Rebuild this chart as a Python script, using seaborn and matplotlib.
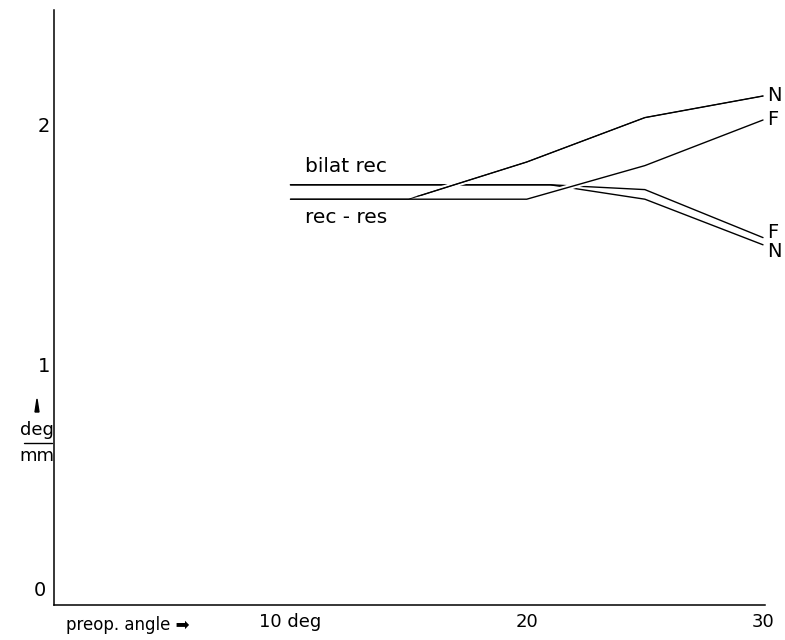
import matplotlib
matplotlib.use("Agg")
import matplotlib.pyplot as plt
import matplotlib.patheffects as pe
from matplotlib.lines import Line2D
from matplotlib.patches import Polygon
import seaborn as sns
import pandas as pd

# values (deg/mm vs preop angle)
x_recres = [10, 15, 20, 25, 30]
recres_N = [1.69, 1.69, 1.845, 2.03, 2.12]
recres_F = [1.69, 1.69, 1.69, 1.83, 2.02]

x_bilat = [10, 21, 25, 30]
bilat_F = [1.75, 1.75, 1.73, 1.53]
bilat_N = [1.75, 1.75, 1.69, 1.50]

end_labels = ["N", "F", "F", "N"]
xticks = [10, 20, 30]
xticklabels = ["10 deg", "20", "30"]
yticks = [1, 2]

df_rr_N = pd.DataFrame({"angle": x_recres, "val": recres_N})
df_rr_F = pd.DataFrame({"angle": x_recres, "val": recres_F})
df_bi_F = pd.DataFrame({"angle": x_bilat, "val": bilat_F})
df_bi_N = pd.DataFrame({"angle": x_bilat, "val": bilat_N})

sns.set_theme(style="white")
plt.rcParams["font.family"] = ["DejaVu Sans"]
plt.rcParams["text.color"] = "black"
plt.rcParams["xtick.color"] = "black"
plt.rcParams["ytick.color"] = "black"

fig = plt.figure(figsize=(7.85, 6.4), dpi=100)
ax = fig.add_axes([0.069, 0.055, 0.906, 0.93])

halo = [pe.withStroke(linewidth=4, foreground="white")]
lw = 1.0

# bilat rec lines underneath
sns.lineplot(data=df_bi_F, x="angle", y="val", ax=ax, color="black", lw=lw, zorder=1)
sns.lineplot(data=df_bi_N, x="angle", y="val", ax=ax, color="black", lw=lw, zorder=1)
# rec-res lines cross over with a gap
sns.lineplot(data=df_rr_N, x="angle", y="val", ax=ax, color="black", lw=lw, zorder=2,
             path_effects=halo)
sns.lineplot(data=df_rr_F, x="angle", y="val", ax=ax, color="black", lw=lw, zorder=3,
             path_effects=halo)
sns.lineplot(data=df_rr_N, x="angle", y="val", ax=ax, color="black", lw=0.7, zorder=4)

ax.set_xlim(0, 30.1)
ax.set_ylim(0, 2.48)

for spine in ["top", "right"]:
    ax.spines[spine].set_visible(False)
for spine in ["left", "bottom"]:
    ax.spines[spine].set_color("black")
    ax.spines[spine].set_linewidth(1.1)

ax.set_xticks(xticks)
ax.set_xticklabels(xticklabels, fontsize=13)
ax.set_yticks(yticks)
ax.set_yticklabels([str(t) for t in yticks], fontsize=14)
ax.tick_params(axis="x", direction="in", length=3, width=1, pad=6)
ax.tick_params(axis="y", length=0, pad=3)
ax.set_xlabel("")
ax.set_ylabel("")

# end labels
ends = [(x_recres[-1], recres_N[-1], 0), (x_recres[-1], recres_F[-1], 0),
        (x_bilat[-1], bilat_F[-1], 4), (x_bilat[-1], bilat_N[-1], -5)]
for (ex, ey, dy), lab in zip(ends, end_labels):
    ax.annotate(lab, (ex, ey), xytext=(3, dy), textcoords="offset points",
                ha="left", va="center", fontsize=14, annotation_clip=False)

ax.text(10.6, 1.825, "bilat rec", fontsize=14.5, ha="left", va="center")
ax.text(10.6, 1.615, "rec - res", fontsize=14.5, ha="left", va="center")

# axis captions
fig.text(40 / 785, 1 - 590 / 640, "0", fontsize=14, ha="center", va="center")
fig.text(66 / 785, 1 - 625 / 640, "preop. angle \u27a1", fontsize=12, ha="left", va="center")

fig.text(37 / 785, 1 - 430 / 640, "deg", fontsize=13, ha="center", va="center")
fig.add_artist(Line2D([24 / 785, 52 / 785], [1 - 443 / 640, 1 - 443 / 640],
                      transform=fig.transFigure, color="black", lw=1))
fig.text(37 / 785, 1 - 456 / 640, "mm", fontsize=13, ha="center", va="center")
fig.add_artist(Polygon([[35 / 785, 1 - 412 / 640], [39 / 785, 1 - 412 / 640],
                        [37 / 785, 1 - 399 / 640]], closed=True,
                       transform=fig.transFigure, color="black"))

fig.savefig("out.png", dpi=100)
